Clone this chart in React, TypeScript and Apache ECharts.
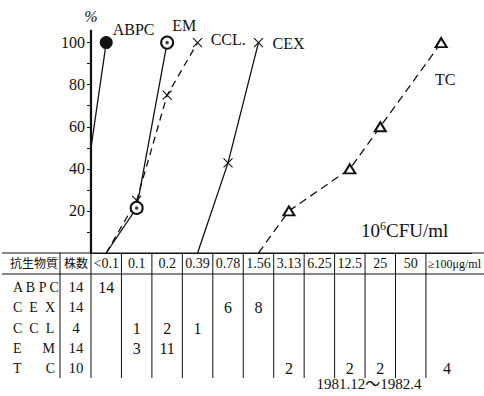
import React, { useEffect, useRef } from "react";
import * as echarts from "echarts";

// ---- data ----
const concentrations = ["<0.1", "0.1", "0.2", "0.39", "0.78", "1.56", "3.13", "6.25", "12.5", "25", "50", "≥100μg/ml"];
const drugNames = ["ABPC", "CEX", "CCL", "EM", "TC"];
const drugRowLabels = ["A B P C", "C  E  X", "C  C  L", "E      M", "T       C"];
const strainCounts = [14, 14, 4, 14, 10];
const abpcCounts = [14, 0, 0, 0, 0, 0, 0, 0, 0, 0, 0, 0];
const cexCounts = [0, 0, 0, 0, 6, 8, 0, 0, 0, 0, 0, 0];
const cclCounts = [0, 1, 2, 1, 0, 0, 0, 0, 0, 0, 0, 0];
const emCounts = [0, 3, 11, 0, 0, 0, 0, 0, 0, 0, 0, 0];
const tcCounts = [0, 0, 0, 0, 0, 0, 2, 0, 2, 2, 0, 4];
const yLabelValues = [20, 40, 60, 80, 100];
const yTickValues = [10, 20, 30, 40, 50, 60, 70, 80, 90, 100];
const unitText = "10{s|6}CFU/ml";
const periodText = "1981.12～1982.4";
const tableHead = ["抗生物質", "株数"];

const countsByDrug = [abpcCounts, cexCounts, cclCounts, emCounts, tcCounts];

// ---- layout ----
const FONT = "'Liberation Serif', 'DejaVu Serif', 'Noto Sans CJK JP', serif";
const GRID_LEFT = 91;
const COL_W = 30.45;
const GRID_TOP = 30;
const Y_ZERO = 253;
const TABLE_TOP = 253;
const HEAD_BOTTOM = 274;
const TABLE_BOTTOM = 378;
const ROW_Y = [287, 307, 328, 348, 368];

// x coordinate of a concentration column centre on the value axis (left edge of first column = 0)
const xOf = (i: number) => i + 0.5;

function cumulative(counts: number[]) {
  const total = counts.reduce((a, b) => a + b, 0);
  const first = counts.findIndex((c) => c > 0);
  const pts: any[] = [{ value: [xOf(first - 1), 0], symbol: "none" }];
  let cum = 0;
  counts.forEach((c, i) => {
    if (c > 0) {
      cum += c;
      pts.push({ value: [xOf(i), (cum / total) * 100] });
    }
  });
  return pts;
}

function withEndLabel(pts: any[], label: any) {
  const out = pts.slice();
  out[out.length - 1] = { ...out[out.length - 1], label: { show: true, ...label } };
  return out;
}

function colLeft(i: number) {
  return GRID_LEFT + i * COL_W;
}
function colCenter(i: number) {
  if (i === concentrations.length - 1) return colLeft(i) + 21;
  return colLeft(i) + COL_W / 2;
}

export default function App() {
  const ref = useRef<HTMLDivElement>(null);
  useEffect(() => {
    if (!ref.current) return;
    const chart = echarts.init(ref.current, null, { renderer: "svg" });

    const black = "#111";
    const labelBase = { color: black, fontFamily: FONT, fontSize: 16 };

    const abpc = withEndLabel(cumulative(abpcCounts), { ...labelBase, formatter: drugNames[0], position: "right", distance: 0, offset: [0, -13] });
    const cex = withEndLabel(cumulative(cexCounts), { ...labelBase, formatter: drugNames[1], position: "right", distance: 9, offset: [0, 1] });
    const ccl = withEndLabel(cumulative(cclCounts), { ...labelBase, formatter: drugNames[2] + ".", position: "right", distance: 8, offset: [0, -3] });
    const em = withEndLabel(cumulative(emCounts), { ...labelBase, formatter: drugNames[3], position: "right", distance: 0, offset: [-2, -17] });
    const tc = withEndLabel(cumulative(tcCounts), { ...labelBase, formatter: drugNames[4], position: "bottom", distance: 5, offset: [4, 18] });

    const graphics: any[] = [];
    const lineStyle = { stroke: black, lineWidth: 1 };
    // y-axis rule (drawn explicitly so it is always visible)
    graphics.push({ type: "line", z: 100, shape: { x1: GRID_LEFT - 0.5, y1: GRID_TOP, x2: GRID_LEFT - 0.5, y2: Y_ZERO }, style: { stroke: black, lineWidth: 1.3 } });
    graphics.push({ type: "line", shape: { x1: 2, y1: TABLE_TOP, x2: 484, y2: TABLE_TOP }, style: lineStyle });
    graphics.push({ type: "line", shape: { x1: 2, y1: HEAD_BOTTOM, x2: 484, y2: HEAD_BOTTOM }, style: lineStyle });
    const vx = [60];
    for (let i = 0; i < concentrations.length; i++) vx.push(colLeft(i));
    vx.forEach((x) =>
      graphics.push({ type: "line", shape: { x1: x, y1: TABLE_TOP, x2: x, y2: TABLE_BOTTOM }, style: lineStyle })
    );
    const headY = (TABLE_TOP + HEAD_BOTTOM) / 2;
    graphics.push({ type: "text", x: 34, y: headY, style: { text: tableHead[0], font: `12px ${FONT}`, fill: black, align: "center", verticalAlign: "middle" } });
    graphics.push({ type: "text", x: 76, y: headY, style: { text: tableHead[1], font: `12px ${FONT}`, fill: black, align: "center", verticalAlign: "middle" } });
    concentrations.forEach((c, i) => {
      const last = i === concentrations.length - 1;
      graphics.push({
        type: "text",
        x: last ? colLeft(i) + 2 : colCenter(i),
        y: headY,
        style: { text: c, font: `${last ? 12 : 14}px ${FONT}`, fill: black, align: last ? "left" : "center", verticalAlign: "middle" },
      });
    });
    drugRowLabels.forEach((lab, r) => {
      graphics.push({ type: "text", x: 13, y: ROW_Y[r], style: { text: lab, font: `14px ${FONT}`, fill: black, align: "left", verticalAlign: "middle" } });
      graphics.push({ type: "text", x: 76, y: ROW_Y[r], style: { text: String(strainCounts[r]), font: `15px ${FONT}`, fill: black, align: "center", verticalAlign: "middle" } });
      countsByDrug[r].forEach((c, i) => {
        if (c > 0)
          graphics.push({ type: "text", x: colCenter(i), y: ROW_Y[r], style: { text: String(c), font: `16px ${FONT}`, fill: black, align: "center", verticalAlign: "middle" } });
      });
    });
    graphics.push({ type: "text", x: 369, y: 384, style: { text: periodText, font: `15px ${FONT}`, fill: black, align: "center", verticalAlign: "middle" } });
    graphics.push({
      type: "text",
      x: 361,
      y: 230,
      style: {
        text: unitText,
        font: `19px ${FONT}`,
        fill: black,
        align: "left",
        verticalAlign: "middle",
        rich: { s: { fontSize: 12, fontFamily: FONT, padding: [0, 0, 9, 0], fill: black } },
      },
    });

    const option: any = {
      animation: false,
      backgroundColor: "#fff",
      grid: { left: GRID_LEFT, top: GRID_TOP, width: COL_W * 12.5, height: Y_ZERO - GRID_TOP },
      xAxis: {
        type: "value", min: 0, max: 12.5,
        axisLine: { show: true, lineStyle: { color: black, width: 1 } },
        axisTick: { show: false }, axisLabel: { show: false }, splitLine: { show: false },
      },
      yAxis: {
        type: "value",
        min: 0,
        max: 106,
        name: "%",
        nameLocation: "end",
        nameGap: 6,
        nameTextStyle: { color: black, fontFamily: FONT, fontSize: 16, fontStyle: "italic", align: "center" },
        axisLine: { show: true, lineStyle: { color: black, width: 1.2 } },
        axisTick: { show: true, length: 4, customValues: yTickValues, lineStyle: { color: black } },
        axisLabel: { customValues: yLabelValues, color: black, fontFamily: FONT, fontSize: 16, margin: 6 },
        splitLine: { show: false },
      },
      series: [
        {
          type: "line", data: abpc, symbol: "circle", symbolSize: 13,
          lineStyle: { color: black, width: 1.3 }, itemStyle: { color: black }, z: 3,
        },
        {
          type: "line", data: cex, symbol: "path://M0,0L10,10M10,0L0,10", symbolSize: 9,
          lineStyle: { color: black, width: 1.3 }, itemStyle: { color: black, borderColor: black, borderWidth: 1.1 },
        },
        {
          type: "line", data: ccl, symbol: "path://M0,0L10,10M10,0L0,10", symbolSize: 9,
          lineStyle: { color: black, width: 1.3, type: [7, 5] }, itemStyle: { color: black, borderColor: black, borderWidth: 1.1 },
        },
        {
          type: "line", data: em, symbol: "emptyCircle", symbolSize: 12,
          lineStyle: { color: black, width: 1.3 }, itemStyle: { color: black, borderColor: black, borderWidth: 1.3 }, z: 3,
        },
        {
          type: "scatter", data: cumulative(emCounts).slice(1), symbol: "circle", symbolSize: 3.5,
          itemStyle: { color: black }, z: 5,
        },
        {
          type: "line", data: tc, symbol: "emptyTriangle", symbolSize: [11, 9],
          lineStyle: { color: black, width: 1.3, type: [8, 5] }, itemStyle: { color: black, borderColor: black, borderWidth: 1.2 },
        },
      ],
      graphic: graphics,
    };
    chart.setOption(option);
    return () => chart.dispose();
  }, []);
  return <div ref={ref} style={{ position: "absolute", left: 0, top: 0, width: 484, height: 396 }} />;
}
